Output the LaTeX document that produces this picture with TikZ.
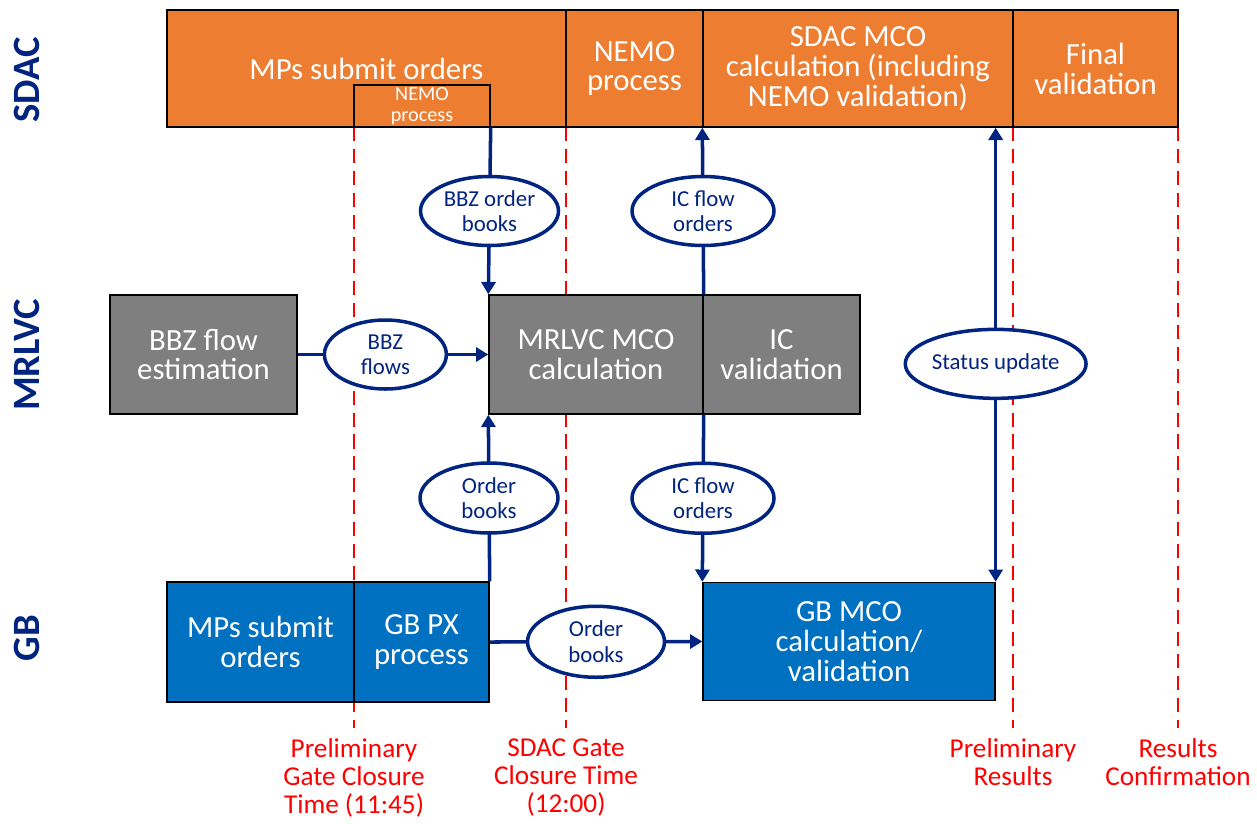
\documentclass[tikz,border=0pt]{standalone}
\usepackage{fontspec}
\setmainfont{Carlito}
\usetikzlibrary{arrows.meta,shapes.geometric}
\definecolor{sdacorange}{RGB}{237,125,49}
\definecolor{mrlvcgrey}{RGB}{127,127,127}
\definecolor{gbblue}{RGB}{0,112,192}
\definecolor{flownavy}{RGB}{0,36,128}
\definecolor{gatered}{RGB}{255,0,0}
\tikzset{
  box/.style={draw=black,line width=0.8pt,text=white,align=center,inner sep=0pt,
    font=\fontsize{17.5}{17}\selectfont},
  sdacbox/.style={box,fill=sdacorange,minimum height=2.34cm},
  mrlvcbox/.style={box,fill=mrlvcgrey,minimum height=2.38cm},
  gbbox/.style={box,fill=gbblue,minimum height=2.4cm},
  bubble/.style={ellipse,draw=flownavy,line width=2pt,fill=white,text=flownavy,
    align=center,inner sep=0pt,minimum height=1.38cm,font=\fontsize{13}{14.5}\selectfont},
  flow/.style={flownavy,line width=2pt},
  gate/.style={gatered,line width=1.5pt,dash pattern=on 8pt off 4.5pt},
  gatelabel/.style={text=gatered,align=center,anchor=north,inner sep=0pt,
    font=\fontsize{15.5}{16}\selectfont},
  lane/.style={text=flownavy,rotate=90,font=\bfseries\fontsize{22}{24}\selectfont}
}
\begin{document}
\begin{tikzpicture}[x=0.02cm,y=-0.02cm,>={Triangle[length=7pt,width=8pt]}]
  \useasboundingbox (0,0) rectangle (1257,823);
  \node[lane] (sdaclane) at (27,80) {SDAC};
  \node[lane] (mrlvclane) at (27,355) {MRLVC};
  \node[lane] (gblane) at (27,638) {GB};
  \foreach \x/\n/\t in {354/pgct/{Preliminary\\Gate Closure\\Time (11:45)},
                        566/sgct/{SDAC Gate\\Closure Time\\(12:00)},
                        1013/pres/{Preliminary\\Results},
                        1178/rconf/{Results\\Confirmation}}
  {
    \coordinate (\n top) at (\x,127);
    \node[gatelabel] (\n) at (\x,738) {\t};
    \draw[gate] (\n top) -- ([yshift=0.2cm]\n.north);
  }
  % SDAC
  \node[sdacbox,minimum width=7.98cm] (sdacA) at (366.5,68.5) {MPs submit orders};
  \node[sdacbox,minimum width=2.74cm] (sdacB) at (634.5,68.5) {NEMO\\process};
  \node[sdacbox,minimum width=6.2cm] (sdacC) at (858,68.5) {SDAC MCO\\calculation (including\\NEMO validation)};
  \node[sdacbox,minimum width=3.3cm] (sdacD) at (1095.5,68.5) {Final\\validation};
  \node[box,fill=sdacorange,minimum width=2.72cm,minimum height=0.84cm,
    font=\fontsize{11.5}{11.5}\selectfont] (nemo) at (422,106) {NEMO\\process};
  % MRLVC
  \node[mrlvcbox,minimum width=3.74cm] (bbzest) at (203.5,354.5) {BBZ flow\\estimation};
  \node[mrlvcbox,minimum width=4.28cm] (mrlvc) at (596,354.5) {MRLVC MCO\\calculation};
  \node[mrlvcbox,minimum width=3.14cm] (icval) at (781.5,354.5) {IC\\validation};
  % GB
  \node[gbbox,minimum width=3.74cm] (gbmps) at (260.5,642) {MPs submit\\orders};
  \node[gbbox,minimum width=2.7cm] (gbpx) at (421.5,642) {GB PX\\process};
  \node[gbbox,minimum width=5.84cm,minimum height=2.36cm] (gbmco) at (849,641.5) {GB MCO\\calculation/\\validation};
  \coordinate (statustop) at (gbmco.north east |- sdacC.south);

  \draw[flow,->] (nemo.south east) -- node[bubble,minimum width=2.76cm] (bbzob) {BBZ order\\books} (mrlvc.north west);
  \draw[flow,->] (mrlvc.north east) -- node[bubble,minimum width=2.84cm] (icup) {IC flow\\orders} (sdacC.south west);
  \draw[flow,->] (gbpx.north east) -- node[bubble,minimum width=2.76cm,minimum height=1.4cm] (gbob) {Order\\books} (mrlvc.south west);
  \draw[flow,->] (mrlvc.south east) -- node[bubble,minimum width=2.84cm,minimum height=1.4cm] (icdown) {IC flow\\orders} (gbmco.north west);
  \draw[flow,->] (bbzest.east) -- node[bubble,pos=0.46,minimum width=2.44cm] (bbzfl) {BBZ\\flows} (mrlvc.west);
  \draw[flow,->] (gbpx.east) -- node[bubble,minimum width=2.74cm,minimum height=1.42cm] (pxob) {Order\\books} (gbmco.west);
  \draw[flow,<->] (statustop) -- node[bubble,pos=0.52,minimum width=3.24cm,
    font=\fontsize{13}{14}\selectfont] (status) {Status update} (gbmco.north east);
\end{tikzpicture}
\end{document}
